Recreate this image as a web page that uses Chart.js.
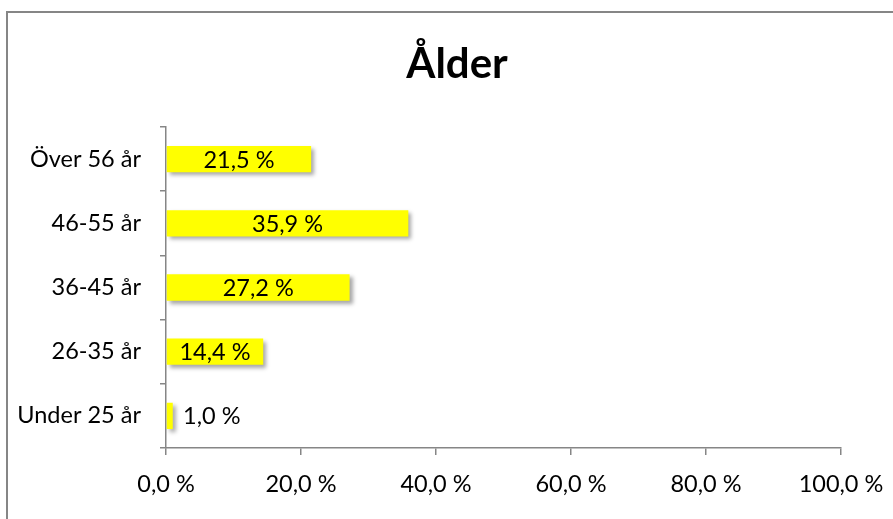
<!DOCTYPE html>
<html>
<head>
<meta charset="utf-8">
<script src="https://cdn.jsdelivr.net/npm/chart.js@4/dist/chart.umd.min.js"></script>
<style>
html,body{margin:0;padding:0;background:#fff;overflow:hidden;}
#wrap{position:relative;width:893px;height:519px;}
#frame{position:absolute;left:6px;top:11px;width:900px;height:520px;border-left:2px solid #868686;border-top:2px solid #868686;box-sizing:border-box;pointer-events:none;}
canvas{position:absolute;left:0;top:0;}
</style>
</head>
<body>
<div id="wrap">
<canvas id="c" width="893" height="519"></canvas>
<div id="frame"></div>
</div>
<script>
const titleText = "Ålder";
const categories = ["Under 25 år", "26-35 år", "36-45 år", "46-55 år", "Över 56 år"];
const values = [1.0, 14.4, 27.2, 35.9, 21.5];
const xTicks = [0, 20, 40, 60, 80, 100];

const fmt = v => v.toFixed(1).replace('.', ',') + ' %';
const FONT = "Lato, 'Open Sans', sans-serif";

const titlePlugin = {
  id: 'frameTitle',
  afterDraw(chart) {
    const ctx = chart.ctx;
    ctx.save();
    ctx.font = "bold 42px " + FONT;
    ctx.fillStyle = '#000';
    ctx.textAlign = 'center';
    ctx.textBaseline = 'alphabetic';
    ctx.fillText(titleText, 457, 78);
    ctx.restore();
  }
};

const shadowPlugin = {
  id: 'barShadow',
  beforeDatasetsDraw(chart) {
    const ctx = chart.ctx;
    ctx.save();
    ctx.shadowColor = 'rgba(0,0,0,0.35)';
    ctx.shadowBlur = 4;
    ctx.shadowOffsetX = 3;
    ctx.shadowOffsetY = 3;
  },
  afterDatasetsDraw(chart) {
    chart.ctx.restore();
  }
};

const labelPlugin = {
  id: 'valueLabels',
  afterDraw(chart) {
    const ctx = chart.ctx;
    const meta = chart.getDatasetMeta(0);
    ctx.save();
    ctx.font = "23.5px " + FONT;
    ctx.fillStyle = '#000';
    ctx.textAlign = 'center';
    ctx.textBaseline = 'middle';
    meta.data.forEach((bar, i) => {
      const center = (bar.x + bar.base) / 2;
      const x = Math.max(center, bar.base + 45);
      ctx.fillText(fmt(values[i]), x, bar.y + 1);
    });
    ctx.restore();
  }
};

new Chart(document.getElementById('c'), {
  type: 'bar',
  data: {
    labels: categories,
    datasets: [{
      data: values,
      backgroundColor: '#FFFF00',
      borderWidth: 0,
      barPercentage: 0.41,
      categoryPercentage: 1.0
    }]
  },
  options: {
    indexAxis: 'y',
    responsive: false,
    animation: false,
    layout: { padding: { left: 0, right: 52, top: 127, bottom: 0 } },
    plugins: {
      legend: { display: false },
      tooltip: { enabled: false },
      title: { display: false }
    },
    scales: {
      x: {
        min: 0,
        max: 100,
        afterBuildTicks(scale) { scale.ticks = xTicks.map(v => ({ value: v })); },
        afterFit(scale) { scale.height = 71; scale.paddingLeft = 0; scale.paddingRight = 0; },
        ticks: {
          callback: v => fmt(v),
          color: '#000',
          font: { family: FONT, size: 23.5 },
          padding: 15,
          maxRotation: 0
        },
        grid: { drawOnChartArea: false, drawTicks: true, tickLength: 7, color: '#868686', lineWidth: 1.5 },
        border: { display: true, color: '#868686', width: 1.5 }
      },
      y: {
        reverse: true,
        afterFit(scale) { scale.width = 166; scale.paddingTop = 0; scale.paddingBottom = 0; },
        ticks: {
          color: '#000',
          font: { family: FONT, size: 23.5 },
          padding: 19
        },
        grid: { drawOnChartArea: false, drawTicks: true, tickLength: 6, color: '#868686', lineWidth: 1.5, offset: true },
        border: { display: true, color: '#868686', width: 1.5 }
      }
    }
  },
  plugins: [shadowPlugin, labelPlugin, titlePlugin]
});
</script>
</body>
</html>
